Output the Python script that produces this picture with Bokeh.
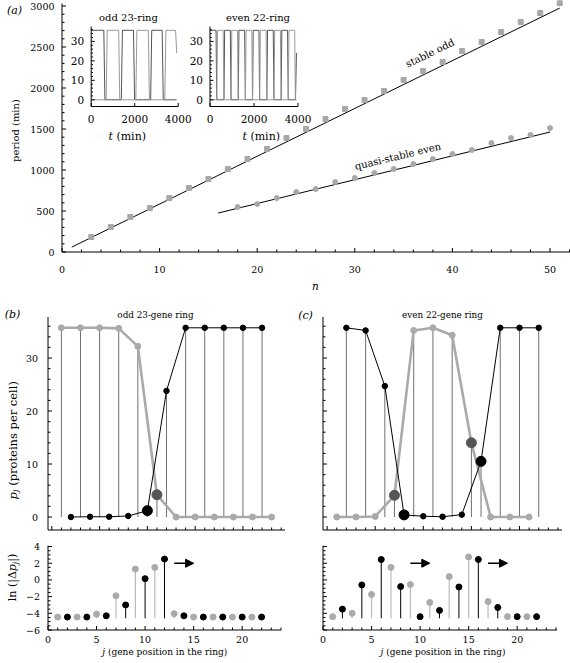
import math
from bokeh.plotting import figure
from bokeh.models import Range1d, Label, Arrow, NormalHead, ColumnDataSource, Whisker, TeeHead
from bokeh.layouts import column, row
from bokeh.embed import file_html
from bokeh.resources import INLINE

SERIF = "DejaVu Serif"

# ---------------- panel (a) data ----------------
odd_n = list(range(3, 52, 2))
odd_period = [183, 305, 427, 537, 658, 780, 890, 1012, 1134, 1256, 1390, 1500, 1622,
              1744, 1853, 1963, 2097, 2207, 2317, 2451, 2561, 2683, 2805, 2915, 3036]
odd_err = [0, 0, 0, 0, 0, 0, 0, 0, 0, 0, 10, 10, 10, 12, 12, 15, 30, 15, 15, 20, 25, 30, 30, 30, 30]
even_n = list(range(18, 51, 2))
even_period = [549, 585, 658, 731, 768, 853, 902, 963, 1012, 1073, 1134, 1195, 1244,
               1329, 1390, 1427, 1512]
odd_fit_n = [1, 51]
odd_fit_period = [60, 2975]
even_fit_n = [16, 50]
even_fit_period = [475, 1463]
a_xticks = [0, 10, 20, 30, 40, 50]
a_xminor = list(range(0, 53, 2))
a_yticks = [0, 500, 1000, 1500, 2000, 2500, 3000]
a_yminor = list(range(0, 3001, 100))

# inset time courses (corner points)
odd_a_t = [0, 580, 630, 1385, 1435, 1945, 1995, 2733, 2783, 3263, 3313, 3930]
odd_a_p = [35.7, 35.7, 0, 0, 35.7, 35.7, 0, 0, 35.7, 35.7, 0, 0]
odd_b_t = [0, 687, 737, 1263, 1313, 2051, 2101, 2627, 2677, 3384, 3434, 3880, 3930]
odd_b_p = [0, 0, 35.7, 35.7, 0, 0, 35.7, 35.7, 0, 0, 35.7, 35.7, 24]
even_a_t = [0, 275, 305, 635, 665, 925, 955, 1285, 1315, 1575, 1605, 1935, 1965,
            2225, 2255, 2585, 2615, 2875, 2905, 3235, 3265, 3525, 3555, 3885, 3930]
even_a_p = [35.7, 35.7, 0, 0, 35.7, 35.7, 0, 0, 35.7, 35.7, 0, 0, 35.7,
            35.7, 0, 0, 35.7, 35.7, 0, 0, 35.7, 35.7, 0, 0, 24]
even_b_t = [0, 310, 340, 600, 630, 960, 990, 1250, 1280, 1610, 1640, 1900, 1930,
            2260, 2290, 2550, 2580, 2910, 2940, 3200, 3230, 3560, 3590, 3850, 3880, 3930]
even_b_p = [0, 0, 35.7, 35.7, 0, 0, 35.7, 35.7, 0, 0, 35.7, 35.7, 0,
            0, 35.7, 35.7, 0, 0, 35.7, 35.7, 0, 0, 35.7, 35.7, 0, 0]
inset_xticks = [0, 2000, 4000]
inset_yticks = [0, 10, 20, 30]
inset_yminor = list(range(0, 38, 2))

# ---------------- panel (b) data ----------------
b_gray_j = list(range(1, 24, 2))
b_gray_p = [35.7, 35.7, 35.7, 35.6, 32.2, 4.2, 0, 0, 0, 0, 0, 0]
b_black_j = list(range(2, 23, 2))
b_black_p = [0, 0.05, 0.05, 0.2, 1.2, 23.8, 35.7, 35.7, 35.7, 35.7, 35.7]
b_front_gray = [11]
b_front_black = [10]
b_ln_gray_j = list(range(1, 22, 2))
b_ln_gray = [-4.45, -4.45, -4.1, -1.9, 1.3, 1.5, -4.05, -4.45, -4.45, -4.45, -4.45]
b_ln_black_j = list(range(2, 23, 2))
b_ln_black = [-4.45, -4.45, -4.3, -3.0, 0.15, 2.5, -4.3, -4.45, -4.45, -4.45, -4.45]
b_arrows = [(13, 15, 2.0)]

# ---------------- panel (c) data ----------------
c_gray_j = list(range(1, 22, 2))
c_gray_p = [0, 0, 0.1, 4.1, 35.2, 35.7, 34.3, 14.0, 0, 0, 0]
c_black_j = list(range(2, 23, 2))
c_black_p = [35.7, 35.2, 24.7, 0.4, 0.15, 0.05, 0.45, 10.5, 35.7, 35.7, 35.7]
c_front_gray = [7, 15]
c_front_black = [8, 16]
c_ln_gray_j = list(range(1, 22, 2))
c_ln_gray = [-4.4, -4.0, -1.75, 1.5, -0.55, -2.7, 0.4, 2.75, -2.6, -4.4, -4.4]
c_ln_black_j = list(range(2, 23, 2))
c_ln_black = [-3.5, -0.6, 2.45, -0.8, -4.4, -3.65, -0.85, 2.45, -3.3, -4.4, -4.4]
c_arrows = [(9, 11, 2.0), (17, 19, 2.0)]

ln_base = -4.6
j_ticks = [0, 5, 10, 15, 20]
j_minor = list(range(0, 25))
ln_ticks = [-6, -4, -2, 0, 2, 4]
ln_minor = [-6 + 0.5 * k for k in range(21)]
p_ticks = [0, 10, 20, 30]
p_minor = list(range(0, 38, 2))


class Geo:
    """linear map between data and page pixels (left/right/top/bottom = page px of x0/x1/y1/y0)"""
    def __init__(s, left, right, top, bottom, x0, x1, y0, y1):
        s.left, s.right, s.top, s.bottom = left, right, top, bottom
        s.x0, s.x1, s.y0, s.y1 = x0, x1, y0, y1

    def dx(s, px):
        return s.x0 + (px - s.left) / (s.right - s.left) * (s.x1 - s.x0)

    def dy(s, py):
        return s.y0 + (s.bottom - py) / (s.bottom - s.top) * (s.y1 - s.y0)

    def px(s, x):
        return s.left + (x - s.x0) * s.ppx()

    def py(s, y):
        return s.bottom - (y - s.y0) * s.ppy()

    def ppx(s):
        return (s.right - s.left) / (s.x1 - s.x0)

    def ppy(s):
        return (s.bottom - s.top) / (s.y1 - s.y0)


def make_canvas(cl, ct, w, h, g):
    p = figure(width=w, height=h,
               x_range=Range1d(g.dx(cl), g.dx(cl + w)),
               y_range=Range1d(g.dy(ct + h), g.dy(ct)),
               x_axis_location=None, y_axis_location=None,
               output_backend="svg", toolbar_location=None,
               min_border=0, min_border_left=0, min_border_right=0,
               min_border_top=0, min_border_bottom=0)
    p.outline_line_color = None
    p.grid.visible = False
    p.background_fill_color = "white"
    p.border_fill_color = "white"
    return p


def lab(p, g, px, py, text, size, style="normal", align="center", baseline="middle",
        angle=0.0, color="black", font=SERIF):
    p.add_layout(Label(x=g.dx(px), y=g.dy(py), text=text, text_font=font,
                       text_font_size=f"{size}px", text_font_style=style, text_align=align,
                       text_baseline=baseline, angle=angle, text_color=color))


def fmt(t):
    if t < 0:
        return "\u2212" + fmt(-t)
    return str(int(t)) if float(t).is_integer() else str(t)


TICK_FS = 9.5


def axes(p, g, xmaj, xmin, ymaj, ymin, xlab_py=None, ylab_px=None, maj=4.0, mnr=2.5,
         size=TICK_FS):
    p.segment(x0=[g.x0, g.x0], y0=[g.y0, g.y0], x1=[g.x0, g.x1], y1=[g.y1, g.y0],
              line_color="black", line_width=1)
    xm = [v for v in xmin if v not in xmaj]
    ym = [v for v in ymin if v not in ymaj]
    dyM, dym = maj / g.ppy(), mnr / g.ppy()
    dxM, dxm = maj / g.ppx(), mnr / g.ppx()
    p.segment(x0=xmaj, y0=[g.y0] * len(xmaj), x1=xmaj, y1=[g.y0 + dyM] * len(xmaj),
              line_color="black", line_width=1)
    p.segment(x0=xm, y0=[g.y0] * len(xm), x1=xm, y1=[g.y0 + dym] * len(xm),
              line_color="black", line_width=1)
    p.segment(x0=[g.x0] * len(ymaj), y0=ymaj, x1=[g.x0 + dxM] * len(ymaj), y1=ymaj,
              line_color="black", line_width=1)
    p.segment(x0=[g.x0] * len(ym), y0=ym, x1=[g.x0 + dxm] * len(ym), y1=ym,
              line_color="black", line_width=1)
    if xlab_py is not None:
        for t in xmaj:
            lab(p, g, g.px(t), xlab_py, fmt(t), size)
    if ylab_px is not None:
        for t in ymaj:
            lab(p, g, ylab_px, g.py(t), fmt(t), size, align="right")


# ======================= panel (a) =======================
ppy_a = 0.082
ga = Geo(61.5, 570.0, 251.5 - 3030 * ppy_a, 251.5, 0, (570.0 - 61.5) / 9.76, 0, 3030)
pa = make_canvas(0, 0, 570, 300, ga)
axes(pa, ga, a_xticks, a_xminor, a_yticks, a_yminor, xlab_py=269, ylab_px=54)
lab(pa, ga, 315, 285, "n", 10.5, style="italic")
lab(pa, ga, 15, 130, "period (min)", 10, angle=math.pi / 2)
lab(pa, ga, 14, 10, "(a)", 11, style="italic")

pa.line(odd_fit_n, odd_fit_period, line_color="black", line_width=1)
pa.line(even_fit_n, even_fit_period, line_color="black", line_width=1)
src_odd = ColumnDataSource(dict(n=odd_n, p=odd_period,
                                up=[v + e for v, e in zip(odd_period, odd_err)],
                                lo=[v - e for v, e in zip(odd_period, odd_err)]))
pa.add_layout(Whisker(source=src_odd, base="n", upper="up", lower="lo", line_color="#a8a8a8",
                      upper_head=TeeHead(size=4, line_color="#a8a8a8"),
                      lower_head=TeeHead(size=4, line_color="#a8a8a8")))
pa.scatter(odd_n, odd_period, marker="square", size=5, color="#a8a8a8")
pa.scatter(even_n, even_period, marker="circle", size=5, color="#a8a8a8")

ang_odd = math.atan((odd_fit_period[1] - odd_fit_period[0]) / (odd_fit_n[1] - odd_fit_n[0]) * ga.ppy() / ga.ppx())
ang_even = math.atan((even_fit_period[1] - even_fit_period[0]) / (even_fit_n[1] - even_fit_n[0]) * ga.ppy() / ga.ppx())
n_lab = 37.7
v_line = odd_fit_period[0] + (n_lab - odd_fit_n[0]) * (odd_fit_period[1] - odd_fit_period[0]) / (odd_fit_n[1] - odd_fit_n[0])
pa.add_layout(Label(x=n_lab, y=v_line + 18.5 / ga.ppy(), text="stable odd", text_font=SERIF,
                    text_font_size="10px", text_align="center", text_baseline="middle",
                    angle=ang_odd, text_color="black"))
n_lab = 34.4
v_line = even_fit_period[0] + (n_lab - even_fit_n[0]) * (even_fit_period[1] - even_fit_period[0]) / (even_fit_n[1] - even_fit_n[0])
pa.add_layout(Label(x=n_lab, y=v_line + 13 / ga.ppy(), text="quasi-stable even", text_font=SERIF,
                    text_font_size="10px", text_align="center", text_baseline="middle",
                    angle=ang_even, text_color="black"))

CAN_A = (0, 570, 0, 300)


def inset(p, mg, key, xpx0, xpx1, curves, title, title_px, tlab_px):
    ypx0, ypx30 = 99.3, 40.9
    sx = 4000.0 / (xpx1 - xpx0)
    sy = 30.0 / (ypx0 - ypx30)
    cl, cr, ct, cb = CAN_A
    p.extra_x_ranges[key + "x"] = Range1d((cl - xpx0) * sx, (cr - xpx0) * sx)
    p.extra_y_ranges[key + "y"] = Range1d((ypx0 - cb) * sy, (ypx0 - ct) * sy)
    kw = dict(x_range_name=key + "x", y_range_name=key + "y")
    vb = -(106 - ypx0) * sy
    vt = (ypx0 - 26) * sy
    for (t, v, c) in curves:
        p.line(t, v, line_color=c, line_width=1, **kw)
    p.segment(x0=[0, 0], y0=[vb, vb], x1=[0, inset_xticks[-1]], y1=[vt, vb],
              line_color="black", line_width=1, **kw)
    ymin = [v for v in inset_yminor if v not in inset_yticks]
    p.segment(x0=[0] * len(ymin), y0=ymin, x1=[1.8 * sx] * len(ymin), y1=ymin,
              line_color="black", line_width=1, **kw)
    p.segment(x0=[0] * len(inset_yticks), y0=inset_yticks, x1=[3.5 * sx] * len(inset_yticks),
              y1=inset_yticks, line_color="black", line_width=1, **kw)
    p.segment(x0=inset_xticks, y0=[vb] * 3, x1=inset_xticks, y1=[vb + 3.5 * sy] * 3,
              line_color="black", line_width=1, **kw)
    for v in inset_yticks:
        lab(p, mg, xpx0 - 7, ypx0 - v / sy, str(v), 10.5, align="right")
    for t in inset_xticks:
        lab(p, mg, xpx0 + t / sx, 118.5, str(t), 10.5)
    lab(p, mg, title_px, 17, title, 10)
    lab(p, mg, tlab_px, 136, "t", 11, style="italic", align="left")
    lab(p, mg, tlab_px + 7.9, 136, "(min)", 11, align="left")


inset(pa, ga, "i1", 90.7, 177.7,
      [(odd_a_t, odd_a_p, "#555555"), (odd_b_t, odd_b_p, "#999999")],
      "odd 23-ring", 128, 108)
inset(pa, ga, "i2", 209.5, 297.5,
      [(even_a_t, even_a_p, "#555555"), (even_b_t, even_b_p, "#999999")],
      "even 22-ring", 257.5, 242)


# ======================= panels (b) and (c) =======================
def top_panel(p, gj, gp, bj, bp, fg, fb):
    p.segment(x0=gj, y0=[0] * len(gj), x1=gj, y1=gp, line_color="#707070", line_width=1)
    p.segment(x0=bj, y0=[0] * len(bj), x1=bj, y1=bp, line_color="#707070", line_width=1)
    p.line(gj, gp, line_color="#aaaaaa", line_width=2.6)
    p.line(bj, bp, line_color="black", line_width=1)
    p.scatter(gj, gp, size=6, color="#aaaaaa")
    p.scatter(bj, bp, size=5.5, color="black")
    fgp = [gp[gj.index(j)] for j in fg]
    fbp = [bp[bj.index(j)] for j in fb]
    p.scatter(fg, fgp, size=10, color="#555555")
    p.scatter(fb, fbp, size=10, color="black")


def bottom_panel(p, gj, gv, bj, bv, arrows):
    p.segment(x0=gj, y0=[ln_base] * len(gj), x1=gj, y1=gv, line_color="#bbbbbb", line_width=1.2)
    p.segment(x0=bj, y0=[ln_base] * len(bj), x1=bj, y1=bv, line_color="black", line_width=1)
    p.scatter(gj, gv, size=6, color="#aaaaaa")
    p.scatter(bj, bv, size=6, color="black")
    for (a, b, y) in arrows:
        p.add_layout(Arrow(end=NormalHead(size=8, fill_color="black", line_color="black", line_width=1),
                           x_start=a, y_start=y, x_end=b, y_end=y, line_color="black", line_width=1.3))


# (b) top
g_bt = Geo(47.5, 284.5, 316.5, 529.5, -0.4, 24.4, -2.45, 37.74)
pbt = make_canvas(0, 300, 290, 235, g_bt)
axes(pbt, g_bt, j_ticks, j_minor, p_ticks, p_minor, ylab_px=37.5)
top_panel(pbt, b_gray_j, b_gray_p, b_black_j, b_black_p, b_front_gray, b_front_black)
lab(pbt, g_bt, 12, 314, "(b)", 11, style="italic")
lab(pbt, g_bt, 155, 314, "odd 23-gene ring", 8.8)
lab(pbt, g_bt, 12, 499, "p", 11.5, style="italic", align="left", angle=math.pi / 2)
lab(pbt, g_bt, 15, 491.6, "j", 8, style="italic", align="left", angle=math.pi / 2)
lab(pbt, g_bt, 12, 485.3, "(proteins per cell)", 11.5, align="left", angle=math.pi / 2)

# (b) bottom
g_bb = Geo(47.5, 280.5, 545.2, 629.5, 0, 24.0, -6, 4.1)
pbb = make_canvas(0, 535, 290, 128, g_bb)
axes(pbb, g_bb, j_ticks, j_minor, ln_ticks, ln_minor, xlab_py=638.5, ylab_px=39.5)
bottom_panel(pbb, b_ln_gray_j, b_ln_gray, b_ln_black_j, b_ln_black, b_arrows)
lab(pbb, g_bb, 12, 600.7, "ln (|\u0394", 11, align="left", angle=math.pi / 2)
lab(pbb, g_bb, 12, 570.7, "p", 11, style="italic", align="left", angle=math.pi / 2)
lab(pbb, g_bb, 15, 563.7, "j", 7.5, style="italic", align="left", angle=math.pi / 2)
lab(pbb, g_bb, 12, 561.3, "|)", 11, align="left", angle=math.pi / 2)
lab(pbb, g_bb, 101.7, 651.5, "j", 9, style="italic", align="left")
lab(pbb, g_bb, 107.5, 651.5, "(gene position in the ring)", 9, align="left")

# (c) top
g_ct = Geo(322.5, 561.5, 316.5, 529.5, -0.43, 24.42, -2.45, 37.74)
pct = make_canvas(290, 300, 280, 235, g_ct)
axes(pct, g_ct, j_ticks, j_minor, p_ticks, p_minor)
top_panel(pct, c_gray_j, c_gray_p, c_black_j, c_black_p, c_front_gray, c_front_black)
lab(pct, g_ct, 305, 315, "(c)", 11, style="italic")
lab(pct, g_ct, 442, 314, "even 22-gene ring", 8.8)

# (c) bottom
g_cb = Geo(322.5, 556.5, 545.2, 629.5, 0, 24.1, -6, 4.1)
pcb = make_canvas(290, 535, 280, 128, g_cb)
axes(pcb, g_cb, j_ticks, j_minor, ln_ticks, ln_minor, xlab_py=638.5)
bottom_panel(pcb, c_ln_gray_j, c_ln_gray, c_ln_black_j, c_ln_black, c_arrows)
lab(pcb, g_cb, 380, 651.5, "j", 9, style="italic", align="left")
lab(pcb, g_cb, 385.8, 651.5, "(gene position in the ring)", 9, align="left")

layout = column(pa, row(column(pbt, pbb), column(pct, pcb)))
open("out.html", "w").write(file_html(layout, INLINE))
